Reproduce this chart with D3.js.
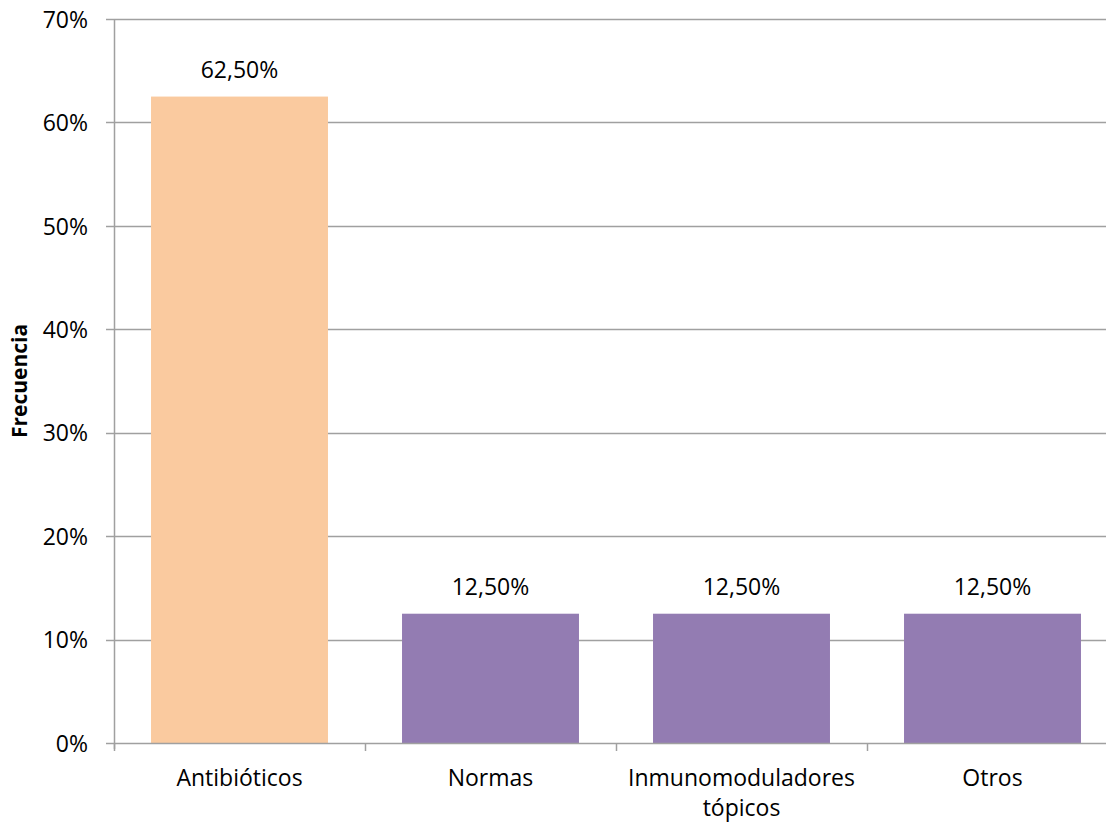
<!DOCTYPE html>
<html>
<head>
<meta charset="utf-8">
<script src="https://cdn.jsdelivr.net/npm/d3@7"></script>
<style>
  html, body { margin: 0; padding: 0; background: #fff; }
  svg { display: block; }
  text { font-family: "Open Sans", "Noto Sans", sans-serif; fill: #000; }
</style>
</head>
<body>
<svg id="chart" width="1106" height="822"></svg>
<script>
// Treatment categories and their share of cases
const categories = ["Antibióticos", "Normas", "Inmunomoduladores\ntópicos", "Otros"];
const values = [0.625, 0.125, 0.125, 0.125];
const valueLabels = ["62,50%", "12,50%", "12,50%", "12,50%"];
const barColors = ["#FACA9F", "#937CB2"];
const yTicks = [0, 0.1, 0.2, 0.3, 0.4, 0.5, 0.6, 0.7];
const yTickLabels = ["0%", "10%", "20%", "30%", "40%", "50%", "60%", "70%"];

const svg = d3.select("#chart");
const plot = { left: 114, right: 1118, top: 19, bottom: 743 };
const gridColor = "#a0a0a0";
const fontSize = 23;

const x = d3.scaleBand().domain(categories).range([plot.left, plot.right])
  .paddingInner(0.295).paddingOuter(0.1475);
const xTick = d3.scaleLinear().domain([0, categories.length]).range([plot.left, plot.right]);
const y = d3.scaleLinear().domain([0, 0.7]).range([plot.bottom, plot.top]);

// horizontal gridlines
svg.append("g").selectAll("line").data(yTicks.filter(d => d > 0)).join("line")
  .attr("x1", plot.left).attr("x2", plot.right)
  .attr("y1", d => Math.round(y(d)) + 0.5).attr("y2", d => Math.round(y(d)) + 0.5)
  .attr("stroke", gridColor).attr("stroke-width", 1.5);

// bars
svg.append("g").selectAll("rect").data(values).join("rect")
  .attr("x", (d, i) => x(categories[i]))
  .attr("width", x.bandwidth())
  .attr("y", d => y(d))
  .attr("height", d => y(0) - y(d))
  .attr("fill", (d, i) => i === 0 ? barColors[0] : barColors[1]);

// value labels
svg.append("g").selectAll("text").data(values).join("text")
  .attr("x", (d, i) => x(categories[i]) + x.bandwidth() / 2)
  .attr("y", d => y(d) - 19)
  .attr("text-anchor", "middle")
  .attr("font-size", fontSize)
  .text((d, i) => valueLabels[i]);

// y axis line and ticks
svg.append("line").attr("x1", plot.left + 0.5).attr("x2", plot.left + 0.5)
  .attr("y1", plot.top).attr("y2", plot.bottom + 6)
  .attr("stroke", gridColor).attr("stroke-width", 1.5);
svg.append("g").selectAll("line").data(yTicks).join("line")
  .attr("x1", plot.left - 8).attr("x2", plot.left)
  .attr("y1", d => Math.round(y(d)) + 0.5).attr("y2", d => Math.round(y(d)) + 0.5)
  .attr("stroke", gridColor).attr("stroke-width", 1.5);
svg.append("g").selectAll("text").data(yTicks).join("text")
  .attr("x", plot.left - 26).attr("y", d => y(d))
  .attr("dy", "0.38em")
  .attr("text-anchor", "end")
  .attr("font-size", fontSize)
  .text((d, i) => yTickLabels[i]);

// x axis line and category ticks
svg.append("line").attr("x1", plot.left).attr("x2", plot.right)
  .attr("y1", plot.bottom + 0.5).attr("y2", plot.bottom + 0.5)
  .attr("stroke", gridColor).attr("stroke-width", 1.5);
svg.append("g").selectAll("line").data(d3.range(categories.length + 1)).join("line")
  .attr("x1", d => Math.round(xTick(d)) + 0.5).attr("x2", d => Math.round(xTick(d)) + 0.5)
  .attr("y1", plot.bottom).attr("y2", plot.bottom + 8)
  .attr("stroke", gridColor).attr("stroke-width", 1.5);

// category labels (multi-line)
const catText = svg.append("g").selectAll("text").data(categories).join("text")
  .attr("x", d => x(d) + x.bandwidth() / 2)
  .attr("y", 786)
  .attr("text-anchor", "middle")
  .attr("font-size", fontSize);
catText.each(function(d) {
  const t = d3.select(this);
  d.split("\n").forEach((line, i) => {
    t.append("tspan").attr("x", t.attr("x")).attr("dy", i === 0 ? 0 : 30).text(line);
  });
});

// y axis title
svg.append("text")
  .attr("transform", "translate(27,381) rotate(-90)")
  .attr("text-anchor", "middle")
  .attr("font-size", 21)
  .attr("font-weight", "bold")
  .text("Frecuencia");
</script>
</body>
</html>
